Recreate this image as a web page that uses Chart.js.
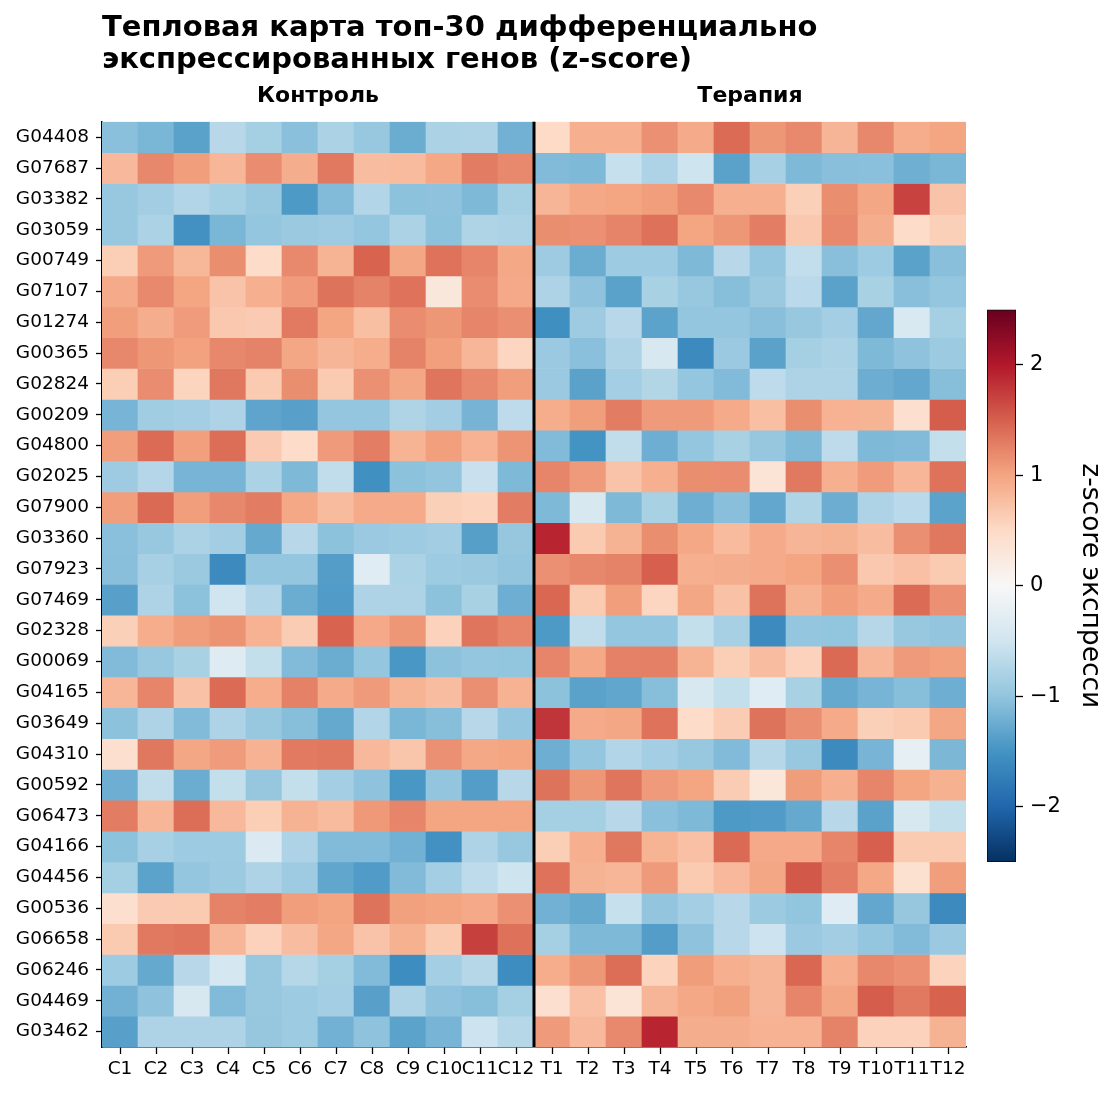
<!DOCTYPE html>
<html>
<head>
<meta charset="utf-8">
<script src="https://cdn.jsdelivr.net/npm/chart.js@4.4.1/dist/chart.umd.min.js"></script>
<style>
    html, body { margin: 0; padding: 0; background: #fff; }
    #wrap { position: relative; width: 1116px; height: 1097px; }
    #heat { position: absolute; left: 0; top: 0; }
    #cbar { position: absolute; left: 987px; top: 290px; }
</style>
</head>
<body>
<div id="wrap">
    <canvas id="heat" width="1116" height="1097"></canvas>
    <canvas id="cbar" width="129" height="600"></canvas>
</div>
<script>
const FONT = "'DejaVu Sans', sans-serif";

const titleLines = ["Тепловая карта топ-30 дифференциально", "экспрессированных генов (z-score)"];
const groupNames = ["Контроль", "Терапия"];
const cbLabel = "z-score экспресси";

const genes = ["G04408","G07687","G03382","G03059","G00749","G07107","G01274","G00365","G02824","G00209",
               "G04800","G02025","G07900","G03360","G07923","G07469","G02328","G00069","G04165","G03649",
               "G04310","G00592","G06473","G04166","G04456","G00536","G06658","G06246","G04469","G03462"];
const controlCols = ["C1","C2","C3","C4","C5","C6","C7","C8","C9","C10","C11","C12"];
const therapyCols = ["T1","T2","T3","T4","T5","T6","T7","T8","T9","T10","T11","T12"];

// z-score по генам (строки) — контрольные образцы
const zControl = [
    [-1.05,-1.15,-1.35,-0.70,-0.85,-1.05,-0.80,-0.95,-1.25,-0.80,-0.78,-1.20],
    [ 0.82, 1.22, 1.05, 0.84, 1.18, 0.92, 1.32, 0.78, 0.80, 0.97, 1.30, 1.20],
    [-0.95,-0.87,-0.75,-0.85,-0.96,-1.43,-1.10,-0.75,-1.03,-1.02,-1.12,-0.85],
    [-0.96,-0.80,-1.52,-1.15,-0.98,-0.94,-0.90,-0.98,-0.80,-1.03,-0.77,-0.80],
    [ 0.62, 1.08, 0.83, 1.17, 0.48, 1.20, 0.86, 1.47, 0.98, 1.37, 1.23, 0.97],
    [ 0.95, 1.20, 1.00, 0.72, 0.90, 1.07, 1.36, 1.25, 1.37, 0.28, 1.18, 0.96],
    [ 1.05, 0.92, 1.07, 0.68, 0.65, 1.31, 1.00, 0.76, 1.18, 1.10, 1.23, 1.16],
    [ 1.22, 1.10, 1.02, 1.22, 1.25, 0.98, 0.85, 0.93, 1.25, 1.04, 0.84, 0.55],
    [ 0.62, 1.18, 0.56, 1.33, 0.66, 1.17, 0.66, 1.15, 0.98, 1.35, 1.20, 1.05],
    [-1.17,-0.88,-0.86,-0.78,-1.33,-1.37,-0.98,-0.98,-0.77,-0.87,-1.18,-0.66],
    [ 1.05, 1.42, 1.04, 1.40, 0.65, 0.47, 1.08, 1.28, 0.86, 1.04, 0.88, 1.12],
    [-0.90,-0.73,-1.17,-1.17,-0.80,-1.12,-0.63,-1.53,-1.03,-0.99,-0.56,-1.12],
    [ 1.05, 1.43, 1.05, 1.22, 1.30, 0.97, 0.80, 0.95, 0.95, 0.60, 0.57, 1.30],
    [-1.05,-0.95,-0.80,-0.87,-1.28,-0.70,-1.03,-0.93,-0.91,-0.87,-1.38,-0.97],
    [-1.06,-0.83,-0.94,-1.60,-0.98,-0.98,-1.40,-0.30,-0.80,-0.91,-0.94,-0.99],
    [-1.37,-0.78,-1.03,-0.50,-0.75,-1.25,-1.42,-0.78,-0.78,-1.03,-0.82,-1.23],
    [ 0.60, 0.93, 1.06, 1.13, 0.88, 0.64, 1.47, 0.96, 1.10, 0.58, 1.35, 1.23],
    [-1.10,-0.96,-0.82,-0.33,-0.60,-1.10,-1.25,-0.98,-1.46,-1.03,-0.98,-1.00],
    [ 0.84, 1.23, 0.73, 1.42, 0.93, 1.26, 0.95, 1.08, 0.86, 0.78, 1.16, 0.88],
    [-1.03,-0.78,-1.10,-0.78,-0.95,-1.07,-1.28,-0.75,-1.15,-1.07,-0.70,-0.98],
    [ 0.42, 1.33, 0.98, 1.07, 0.88, 1.31, 1.33, 0.82, 0.70, 1.15, 0.97, 0.99],
    [-1.23,-0.63,-1.25,-0.60,-0.97,-0.60,-0.86,-1.02,-1.46,-0.99,-1.40,-0.70],
    [ 1.30, 0.84, 1.40, 0.82, 0.62, 0.87, 0.80, 1.09, 1.23, 0.99, 0.99, 0.99],
    [-1.03,-0.83,-0.91,-0.91,-0.37,-0.78,-1.10,-1.10,-1.20,-1.52,-0.78,-0.95],
    [-0.85,-1.34,-0.98,-0.92,-0.78,-0.90,-1.31,-1.42,-1.10,-0.86,-0.66,-0.52],
    [ 0.42, 0.65, 0.66, 1.25, 1.28, 1.05, 1.01, 1.36, 1.03, 1.01, 0.96, 1.15],
    [ 0.66, 1.32, 1.35, 0.84, 0.58, 0.78, 0.98, 0.72, 0.89, 0.66, 1.72, 1.38],
    [-0.91,-1.28,-0.70,-0.45,-0.95,-0.72,-0.85,-1.10,-1.57,-0.86,-0.72,-1.57],
    [-1.20,-1.02,-0.42,-1.10,-0.95,-0.91,-0.86,-1.37,-0.78,-1.02,-1.07,-0.85],
    [-1.37,-0.78,-0.78,-0.78,-0.97,-0.91,-1.20,-1.02,-1.34,-1.17,-0.53,-0.72]
];

// z-score по генам (строки) — образцы терапии
const zTherapy = [
    [ 0.50, 0.90, 0.90, 1.15, 0.95, 1.42, 1.10, 1.20, 0.85, 1.22, 0.93, 1.00],
    [-1.10,-1.12,-0.58,-0.78,-0.52,-1.35,-0.83,-1.12,-1.06,-1.05,-1.22,-1.15],
    [ 0.85, 0.97, 1.00, 1.05, 1.20, 0.90, 0.90, 0.60, 1.17, 0.98, 1.70, 0.72],
    [ 1.17, 1.15, 1.24, 1.38, 1.00, 1.10, 1.28, 0.68, 1.20, 0.92, 0.48, 0.60],
    [-0.90,-1.25,-0.91,-0.91,-1.12,-0.70,-0.98,-0.62,-1.06,-0.91,-1.35,-1.06],
    [-0.78,-1.02,-1.35,-0.82,-0.95,-1.07,-0.94,-0.68,-1.35,-0.82,-1.06,-0.98],
    [-1.55,-0.90,-0.70,-1.34,-0.98,-0.98,-1.06,-0.95,-0.86,-1.30,-0.40,-0.85],
    [-0.93,-1.05,-0.78,-0.42,-1.60,-0.93,-1.35,-0.85,-0.80,-1.12,-1.02,-0.92],
    [-0.93,-1.35,-0.86,-0.74,-0.98,-1.10,-0.66,-0.78,-0.78,-1.24,-1.30,-1.07],
    [ 0.93, 1.05, 1.30, 1.08, 1.08, 0.95, 0.76, 1.17, 0.88, 0.86, 0.42, 1.52],
    [-1.10,-1.50,-0.63,-1.23,-0.98,-0.82,-0.97,-1.12,-0.66,-1.12,-1.10,-0.60],
    [ 1.23, 1.08, 0.72, 0.90, 1.17, 1.18, 0.35, 1.32, 0.90, 1.07, 0.84, 1.37],
    [-1.12,-0.42,-1.12,-0.82,-1.23,-1.06,-1.30,-0.77,-1.24,-0.78,-0.68,-1.34],
    [ 1.92, 0.66, 0.87, 1.17, 0.97, 0.80, 0.95, 0.85, 0.87, 0.78, 1.16, 1.33],
    [ 1.15, 1.22, 1.25, 1.50, 0.90, 0.92, 0.94, 1.00, 1.16, 0.68, 0.75, 0.66],
    [ 1.45, 0.66, 1.05, 0.55, 0.98, 0.74, 1.36, 0.87, 1.05, 0.95, 1.42, 1.15],
    [-1.43,-0.63,-0.98,-0.98,-0.60,-0.83,-1.60,-0.98,-1.00,-0.72,-0.95,-0.99],
    [ 1.23, 0.97, 1.26, 1.27, 0.86, 0.62, 0.78, 0.58, 1.43, 0.84, 1.08, 1.03],
    [-1.03,-1.35,-1.31,-1.07,-0.42,-0.60,-0.30,-0.82,-1.28,-1.17,-1.07,-1.23],
    [ 1.80, 0.95, 0.98, 1.37, 0.48, 0.64, 1.36, 1.16, 0.94, 0.60, 0.66, 0.98],
    [-1.23,-0.98,-0.75,-0.86,-0.95,-1.10,-0.72,-0.96,-1.60,-1.17,-0.22,-1.14],
    [ 1.36, 1.10, 1.35, 1.08, 1.00, 0.64, 0.30, 1.06, 0.90, 1.23, 0.99, 0.89],
    [-0.85,-0.85,-0.70,-1.05,-1.12,-1.43,-1.42,-1.28,-0.70,-1.35,-0.42,-0.60],
    [ 0.62, 0.90, 1.33, 0.86, 0.75, 1.43, 0.96, 0.96, 1.23, 1.50, 0.66, 0.66],
    [ 1.37, 0.87, 0.84, 1.08, 0.66, 0.82, 0.98, 1.55, 1.29, 0.97, 0.40, 1.05],
    [-1.20,-1.28,-0.58,-0.99,-0.86,-0.70,-0.92,-1.00,-0.30,-1.30,-0.97,-1.60],
    [-0.85,-1.12,-1.12,-1.40,-1.02,-0.70,-0.53,-0.93,-0.87,-0.98,-1.10,-0.93],
    [ 0.93, 1.10, 1.40, 0.57, 1.06, 0.90, 0.85, 1.45, 0.90, 1.21, 1.15, 0.57],
    [ 0.42, 0.75, 0.35, 0.85, 0.97, 1.03, 0.85, 1.23, 0.98, 1.52, 1.32, 1.48],
    [ 1.08, 0.82, 1.20, 1.92, 0.92, 0.92, 0.88, 0.88, 1.25, 0.58, 0.58, 0.87]
];

const cbMin = -2.5, cbMax = 2.5;
const cbTicks = [-2, -1, 0, 1, 2];

// палитра RdBu_r (как в matplotlib)
const RDBU = ["#053061","#2166ac","#4393c3","#92c5de","#d1e5f0","#f7f7f7",
              "#fddbc7","#f4a582","#d6604d","#b2182b","#67001f"];

function hexRgb(h) {
    const n = parseInt(h.slice(1), 16);
    return [(n >> 16) & 255, (n >> 8) & 255, n & 255];
}

function rdbu(v) {
    const t = Math.min(1, Math.max(0, (v - cbMin) / (cbMax - cbMin))) * (RDBU.length - 1);
    const i = Math.min(RDBU.length - 2, Math.floor(t));
    const f = t - i;
    const a = hexRgb(RDBU[i]), b = hexRgb(RDBU[i + 1]);
    const c = a.map((x, k) => Math.round(x + (b[k] - x) * f));
    return `rgb(${c[0]},${c[1]},${c[2]})`;
}

Chart.defaults.font.family = FONT;
Chart.defaults.color = "#000";

const columns = controlCols.concat(therapyCols);

// одна строка тепловой карты = один набор «плавающих» столбцов
const datasets = genes.map((g, r) => {
    const row = zControl[r].concat(zTherapy[r]);
    return {
        label: g,
        data: row.map(() => [r, r + 1]),
        backgroundColor: row.map(rdbu),
        borderWidth: 0,
        grouped: false,
        barPercentage: 1,
        categoryPercentage: 1
    };
});

const groupPlugin = {
    id: "groups",
    afterDatasetsDraw(chart) {
        const { ctx, chartArea, scales: { x } } = chart;
        const n = controlCols.length;
        const sep = (x.getPixelForValue(n - 1) + x.getPixelForValue(n)) / 2;

        ctx.save();
        ctx.strokeStyle = "#000";
        ctx.lineWidth = 3;
        ctx.beginPath();
        ctx.moveTo(sep, chartArea.top);
        ctx.lineTo(sep, chartArea.bottom);
        ctx.stroke();

        ctx.font = `bold 22px ${FONT}`;
        ctx.fillStyle = "#000";
        ctx.textAlign = "center";
        ctx.textBaseline = "middle";
        const c1 = (chartArea.left + sep) / 2;
        const c2 = (sep + chartArea.right) / 2;
        ctx.fillText(groupNames[0], c1, chartArea.top - 26);
        ctx.fillText(groupNames[1], c2, chartArea.top - 26);
        ctx.restore();
    }
};

new Chart(document.getElementById("heat"), {
    type: "bar",
    data: { labels: columns, datasets: datasets },
    plugins: [groupPlugin],
    options: {
        responsive: false,
        animation: false,
        layout: { padding: { left: 0, right: 150, top: 0, bottom: 0 } },
        plugins: {
            legend: { display: false },
            tooltip: { enabled: false },
            title: {
                display: true,
                text: titleLines,
                align: "start",
                fullSize: false,
                color: "#000",
                font: { family: FONT, size: 29, weight: "bold", lineHeight: 1.1 },
                padding: { top: 13, bottom: 45 }
            }
        },
        scales: {
            x: {
                type: "category",
                offset: true,
                grid: { drawOnChartArea: false, offset: false, tickLength: 7, tickWidth: 1.3, tickColor: "#000" },
                border: { display: true, color: "#000", width: 1.5 },
                ticks: { color: "#000", font: { size: 18.5 }, maxRotation: 0, autoSkip: false, padding: 4 },
                afterFit(s) { s.height = 50; }
            },
            y: {
                type: "linear",
                reverse: true,
                min: 0,
                max: genes.length,
                afterBuildTicks(s) { s.ticks = genes.map((g, i) => ({ value: i + 0.5 })); },
                grid: { drawOnChartArea: false, tickLength: 6, tickWidth: 1.3, tickColor: "#000" },
                border: { display: true, color: "#000", width: 1.5 },
                ticks: { color: "#000", font: { size: 18.5 }, autoSkip: false, padding: 7,
                         callback: (v, i) => genes[i] },
                afterFit(s) { s.width = 102; }
            }
        }
    }
});

function cbGradient(chart) {
    const a = chart.chartArea;
    if (!a) return RDBU[5];
    const g = chart.ctx.createLinearGradient(0, a.bottom, 0, a.top);
    RDBU.forEach((c, i) => g.addColorStop(i / (RDBU.length - 1), c));
    return g;
}

new Chart(document.getElementById("cbar"), {
    type: "bar",
    data: {
        labels: [""],
        datasets: [{
            data: [[cbMin, cbMax]],
            backgroundColor: ctx => cbGradient(ctx.chart),
            borderColor: "#111",
            borderWidth: 1.3,
            borderSkipped: false,
            barPercentage: 1,
            categoryPercentage: 1
        }]
    },
    options: {
        responsive: false,
        animation: false,
        layout: { padding: { left: 0, right: 0, top: 19, bottom: 28 } },
        plugins: { legend: { display: false }, tooltip: { enabled: false } },
        scales: {
            x: { display: false },
            y: {
                position: "right",
                min: cbMin,
                max: cbMax,
                afterBuildTicks(s) { s.ticks = cbTicks.map(v => ({ value: v })); },
                grid: { drawOnChartArea: false, tickLength: 7, tickWidth: 1.3, tickColor: "#000" },
                border: { display: false },
                ticks: { color: "#000", font: { size: 21 }, padding: 7,
                         callback: v => (v < 0 ? "\u2212" + Math.abs(v) : String(v)) },
                title: { display: true, text: cbLabel, color: "#000",
                         font: { size: 26.5 }, padding: { top: 10, bottom: 0 } },
                afterFit(s) { s.width = 100; }
            }
        }
    }
});
</script>
</body>
</html>
